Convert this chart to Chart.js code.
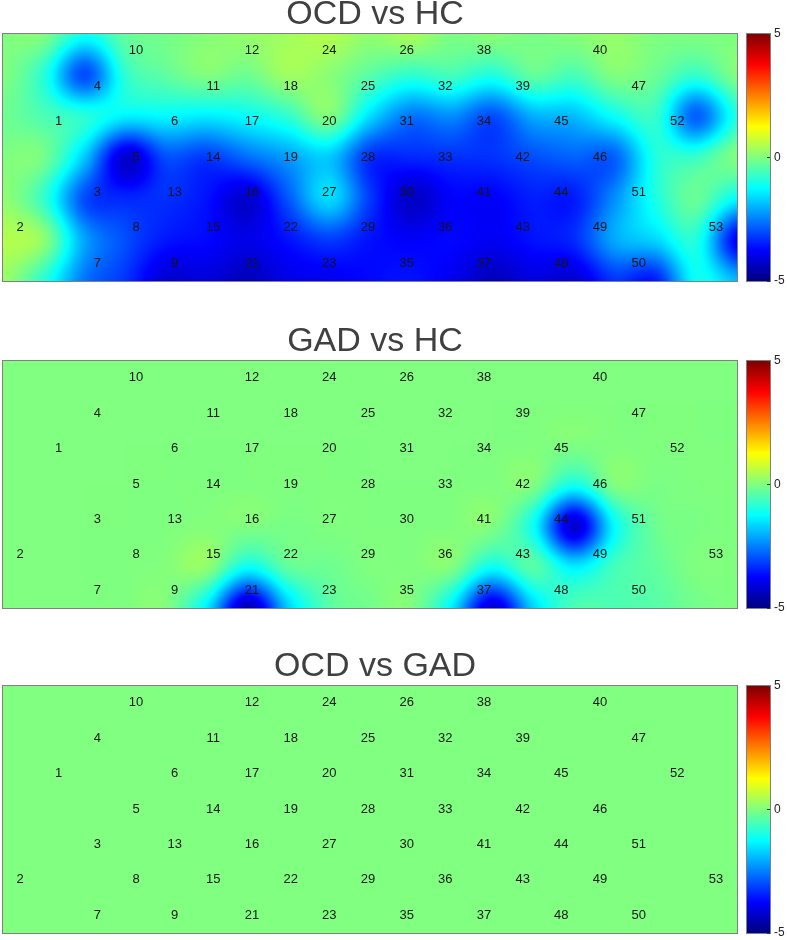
<!DOCTYPE html>
<html>
<head>
<meta charset="utf-8">
<script src="https://cdn.jsdelivr.net/npm/chart.js@4.4.0/dist/chart.umd.min.js"></script>
<style>
  body { margin: 0; background: #fff; }
  canvas { position: absolute; left: 0; }
</style>
</head>
<body>
<canvas id="ocdHc" width="787" height="300" style="top:0"></canvas>
<canvas id="gadHc" width="787" height="300" style="top:327px"></canvas>
<canvas id="ocdGad" width="787" height="300" style="top:652px"></canvas>
<script>
// channel numbers and their place on the probe grid (column, row)
const channels = Array.from({ length: 53 }, (_, i) => i + 1);
const chCol = [1, 0, 2, 2, 3, 4, 2, 3, 4, 3, 5, 6, 4, 5, 5, 6, 6, 7, 7, 8,
  6, 7, 8, 8, 9, 10, 8, 9, 9, 10, 10, 11, 11, 12, 10, 11, 12, 12, 13, 15,
  12, 13, 13, 14, 14, 15, 16, 14, 15, 16, 16, 17, 18];
const chRow = [2, 5, 4, 1, 3, 2, 6, 5, 6, 0, 1, 0, 4, 3, 5, 4, 2, 1, 3, 2,
  6, 5, 6, 0, 1, 0, 4, 3, 5, 4, 2, 1, 3, 2, 6, 5, 6, 0, 1, 0,
  4, 3, 5, 4, 2, 3, 1, 6, 5, 6, 4, 2, 5];

// t-values per channel
const tOcdHc = [-0.5, 0.5, -3.0, -3.0, -4.2, -1.3, -2.6, -3.0, -4.2, -0.3,
  0.0, 0.2, -3.3, -3.2, -3.7, -4.2, -1.2, 0.3, -2.2, 0.0,
  -4.4, -3.6, -3.9, 0.5, -0.4, 0.4, -1.6, -3.3, -3.6, -4.3,
  -2.6, -0.6, -3.3, -3.0, -3.6, -3.7, -4.4, 0.1, -0.3, 0.2,
  -3.8, -3.0, -3.6, -3.5, -1.9, -2.8, -0.2, -4.2, -2.1, -3.5,
  -1.0, -2.8, -3.8];
const tGadHc = [0, 0, 0, 0, 0, 0, 0, 0, 0, 0,
  0, 0, 0, 0, 0.15, 0, 0, 0, 0, 0,
  -4.5, -0.3, -0.4, 0, 0, 0, 0, 0, 0, 0,
  0, 0, 0, 0, 0, 0, -4.2, 0, 0, 0,
  0, 0, -0.4, -4.2, 0, 0, 0, -0.5, -0.6, -0.4,
  -0.2, 0, 0];
const tOcdGad = new Array(53).fill(0);

const tRange = [-5, 5];
const tTicks = [-5, 0, 5];

const FONT = "'Liberation Sans', Arial, sans-serif";

function jet(t) {
  t = Math.min(1, Math.max(0, t));
  const c = k => Math.round(255 * Math.min(1, Math.max(0, 1.5 - Math.abs(4 * t - k))));
  return [c(3), c(2), c(1)];
}

// cubic convolution kernel (a = -0.5)
function keys(x) {
  x = Math.abs(x);
  if (x <= 1) return 1.5 * x * x * x - 2.5 * x * x + 1;
  if (x < 2) return -0.5 * x * x * x + 2.5 * x * x - 4 * x + 2;
  return 0;
}

// channels on the probe grid; an empty cell takes the mean of its
// neighbours inside the grid (empty neighbours count as 0)
function probeGrid(data, rows, cols) {
  const m = [];
  for (let r = 0; r < rows; r++) m.push(new Array(cols).fill(null));
  data.forEach(d => { m[d.y][d.x] = d.v; });
  return m.map((row, r) => row.map((v, c) => {
    if (v !== null) return v;
    let s = 0, k = 0;
    [[r - 1, c], [r + 1, c], [r, c - 1], [r, c + 1]].forEach(([rr, cc]) => {
      if (rr < 0 || rr >= rows || cc < 0 || cc >= cols) return;
      k++;
      if (m[rr][cc] !== null) s += m[rr][cc];
    });
    return s / k;
  }));
}

const heatmap = {
  id: 'heatmap',
  beforeDatasetsDraw(chart, args, opts) {
    const { ctx, chartArea: a, scales } = chart;
    const { x, y, cb } = scales;
    const rows = y.max + 1, cols = x.max + 1;
    const g = probeGrid(chart.data.datasets[0].data, rows, cols);
    const at = (r, c) => g[Math.min(rows - 1, Math.max(0, r))][Math.min(cols - 1, Math.max(0, c))];
    const left = Math.round(a.left), top = Math.round(a.top);
    const W = Math.round(a.right) - left, H = Math.round(a.bottom) - top;
    const img = ctx.createImageData(W, H);
    for (let j = 0; j < H; j++) {
      const fr = y.getValueForPixel(top + j + 0.5);
      const r0 = Math.floor(fr);
      const wr = [-1, 0, 1, 2].map(k => keys(fr - (r0 + k)));
      for (let i = 0; i < W; i++) {
        const fc = x.getValueForPixel(left + i + 0.5);
        const c0 = Math.floor(fc);
        let val = 0;
        for (let m = -1; m <= 2; m++) {
          const wc = keys(fc - (c0 + m));
          if (!wc) continue;
          for (let k = -1; k <= 2; k++) val += wr[k + 1] * wc * at(r0 + k, c0 + m);
        }
        const col = jet((val - cb.min) / (cb.max - cb.min));
        const o = (j * W + i) * 4;
        img.data[o] = col[0]; img.data[o + 1] = col[1]; img.data[o + 2] = col[2]; img.data[o + 3] = 255;
      }
    }
    ctx.putImageData(img, left, top);
    ctx.save();
    ctx.strokeStyle = '#808080';
    ctx.lineWidth = 1;
    ctx.strokeRect(left - 0.5, top - 0.5, W + 1, H + 1);
    ctx.restore();
  },
  afterDatasetsDraw(chart, args, opts) {
    const { ctx, chartArea: a } = chart;
    const ins = opts.inset;
    const meta = chart.getDatasetMeta(0);
    ctx.save();
    ctx.font = '13px ' + FONT;
    ctx.fillStyle = '#151515';
    ctx.textAlign = 'center';
    ctx.textBaseline = 'middle';
    meta.data.forEach((pt, i) => {
      const lx = a.left + ins.left + (pt.x - a.left) * (a.width - ins.left - ins.right) / a.width;
      const ly = a.top + ins.top + (pt.y - a.top) * (a.height - ins.top - ins.bottom) / a.height;
      ctx.fillText(String(channels[i]), lx, ly);
    });
    ctx.restore();
  },
  afterDraw(chart, args, opts) {
    // colour bar along the cb axis
    const { ctx, chartArea: a, scales: { cb } } = chart;
    const x0 = Math.round(a.right) + opts.barGap, bw = opts.barWidth;
    const top = Math.round(cb.top), bottom = Math.round(cb.bottom);
    for (let y = top; y < bottom; y++) {
      const val = cb.getValueForPixel(y + 0.5);
      const c = jet((val - cb.min) / (cb.max - cb.min));
      ctx.fillStyle = `rgb(${c[0]},${c[1]},${c[2]})`;
      ctx.fillRect(x0, y, bw, 1);
    }
    ctx.save();
    ctx.strokeStyle = '#808080';
    ctx.lineWidth = 1;
    ctx.strokeRect(x0 - 0.5, top - 0.5, bw + 1, bottom - top + 1);
    ctx.strokeStyle = '#333';
    cb.ticks.forEach(t => {
      const y = Math.round(cb.getPixelForValue(t.value)) + 0.5;
      ctx.beginPath();
      ctx.moveTo(x0 + bw - 3, y);
      ctx.lineTo(x0 + bw, y);
      ctx.stroke();
    });
    ctx.restore();
  }
};

const centerTitle = {
  id: 'centerTitle',
  afterLayout(chart) {
    if (chart.titleBlock) {
      chart.titleBlock.left = chart.chartArea.left;
      chart.titleBlock.right = chart.chartArea.right + 10;
    }
  }
};

function makePanel(id, title, values) {
  const points = channels.map((ch, i) => ({ x: chCol[i], y: chRow[i], v: values[i] }));
  new Chart(document.getElementById(id), {
    type: 'scatter',
    data: {
      datasets: [{ data: points, pointRadius: 0, pointHoverRadius: 0 }]
    },
    options: {
      responsive: false,
      animation: false,
      events: [],
      layout: { padding: { left: 3, right: 0, top: 0, bottom: 19 } },
      scales: {
        x: { type: 'linear', min: 0, max: 18, display: false },
        y: { type: 'linear', min: 0, max: 6, reverse: true, display: false },
        cb: {
          type: 'linear',
          axis: 'y',
          position: 'right',
          min: tRange[0],
          max: tRange[1],
          afterBuildTicks: s => { s.ticks = tTicks.map(value => ({ value })); },
          ticks: { padding: 4, color: '#222', font: { size: 12, family: FONT } },
          grid: { drawOnChartArea: false, drawTicks: true, tickLength: 33, color: 'rgba(0,0,0,0)' },
          border: { display: false },
          afterFit: s => { s.width = 50; }
        }
      },
      plugins: {
        legend: { display: false },
        tooltip: { enabled: false },
        title: {
          display: true,
          text: title,
          color: '#404040',
          font: { size: 34, family: FONT, weight: 'normal', lineHeight: 0.88 },
          padding: { top: 0, bottom: 4 }
        },
        heatmap: { inset: { left: 17, right: 21, top: 17, bottom: 18 }, barGap: 10, barWidth: 23 }
      }
    },
    plugins: [heatmap, centerTitle]
  });
}

makePanel('ocdHc', 'OCD vs HC', tOcdHc);
makePanel('gadHc', 'GAD vs HC', tGadHc);
makePanel('ocdGad', 'OCD vs GAD', tOcdGad);
</script>
</body>
</html>
